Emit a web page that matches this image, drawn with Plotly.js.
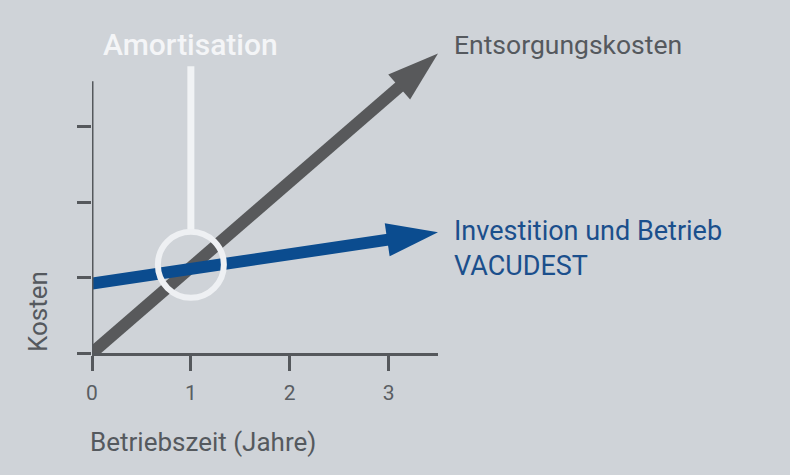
<!DOCTYPE html>
<html>
<head>
<meta charset="utf-8">
<script src="https://cdn.plot.ly/plotly-3.0.1.min.js"></script>
<style>
  html, body { margin: 0; padding: 0; background: #cfd3d8; }
  #chart { width: 790px; height: 475px; }
</style>
</head>
<body>
<div id="chart"></div>
<script>
// years of operation (start / end of the arrows)
var years = [0, 3.5];
// disposal costs, rises steeply
var entsorgung = [0, 3.97];
// investment + running costs of VACUDEST
var vacudest = [0.92, 1.6];

// break-even point and its marker line
var amortX = [1];
var amortY = [1.17];
var amortLineX = [1, 1];
var amortLineY = [1.64, 3.8];

var xTicks = [0, 1, 2, 3];
var yTicks = [0, 1, 2, 3];
var yAxisTop = 3.6;

var gray = '#58595b';
var blue = '#0b4c8f';
var axisCol = '#55585c';
var font = 'Roboto, "Open Sans", sans-serif';

var trace1 = {
  x: years,
  y: entsorgung,
  name: 'Entsorgungskosten',
  mode: 'lines+markers',
  line: { color: gray, width: 12 },
  marker: { symbol: ['circle', 'arrow'], size: [0, 54], angleref: 'previous',
            color: gray, opacity: 1, line: { width: 0 } },
  hoverinfo: 'skip'
};

var trace2 = {
  x: years,
  y: vacudest,
  name: 'VACUDEST',
  mode: 'lines+markers',
  line: { color: blue, width: 12 },
  marker: { symbol: ['circle', 'arrow'], size: [0, 54], angleref: 'previous',
            color: blue, opacity: 1, line: { width: 0 } },
  hoverinfo: 'skip'
};

var trace3 = {
  x: amortLineX,
  y: amortLineY,
  mode: 'lines',
  line: { color: '#f1f3f5', width: 7 },
  hoverinfo: 'skip'
};

var trace4 = {
  x: amortX,
  y: amortY,
  mode: 'markers',
  marker: { symbol: 'circle-open', size: 66, color: '#eef0f3', opacity: 1, line: { width: 6 } },
  hoverinfo: 'skip'
};

var data = [trace1, trace2, trace3, trace4];

var layout = {
  width: 790,
  height: 475,
  margin: { l: 92, r: 352, t: 30, b: 122 },
  paper_bgcolor: '#cfd3d8',
  plot_bgcolor: '#cfd3d8',
  showlegend: false,
  font: { family: font, color: '#5a5e63' },
  xaxis: {
    range: [0, 3.5],
    tickvals: xTicks,
    ticktext: xTicks.map(String),
    ticks: 'outside',
    ticklen: 15,
    tickwidth: 3,
    tickcolor: axisCol,
    showline: true,
    linewidth: 3,
    linecolor: axisCol,
    showgrid: false,
    zeroline: false,
    ticklabelstandoff: 4,
    tickfont: { size: 21, color: '#5a5e63' }
  },
  yaxis: {
    range: [0, 4.28],
    tickvals: yTicks,
    showticklabels: false,
    ticks: 'outside',
    ticklen: 14,
    tickwidth: 3,
    tickcolor: axisCol,
    showline: false,
    showgrid: false,
    zeroline: false
  },
  shapes: [
    { type: 'line', xref: 'x', yref: 'y', x0: 0, x1: 0, y0: 0, y1: yAxisTop,
      line: { color: axisCol, width: 3 } }
  ],
  annotations: [
    { text: 'Amortisation', xref: 'x', yref: 'paper', x: amortX[0], y: 0.954,
      xanchor: 'center', yanchor: 'middle', showarrow: false,
      font: { family: font, size: 30, color: '#f4f5f7', weight: 500 } },
    { text: 'Entsorgungskosten', xref: 'paper', yref: 'paper', x: 1.04, y: 0.954,
      xanchor: 'left', yanchor: 'middle', showarrow: false,
      font: { family: font, size: 26.5, color: '#55595e' } },
    { text: 'Investition und Betrieb<br>VACUDEST', xref: 'paper', yref: 'paper', x: 1.04, y: 0.325,
      xanchor: 'left', yanchor: 'middle', align: 'left', showarrow: false,
      font: { family: font, size: 27, color: '#1b4f8c' } },
    { text: 'Kosten', xref: 'paper', yref: 'paper', x: -0.156, y: 0.127, textangle: -90,
      xanchor: 'center', yanchor: 'middle', showarrow: false,
      font: { family: font, size: 26, color: '#55595e' } },
    { text: 'Betriebszeit (Jahre)', xref: 'paper', yref: 'paper', x: -0.012, y: -0.2755,
      xanchor: 'left', yanchor: 'middle', showarrow: false,
      font: { family: font, size: 26, color: '#55595e' } }
  ]
};

Plotly.newPlot('chart', data, layout, { displayModeBar: false, staticPlot: true });
</script>
</body>
</html>
